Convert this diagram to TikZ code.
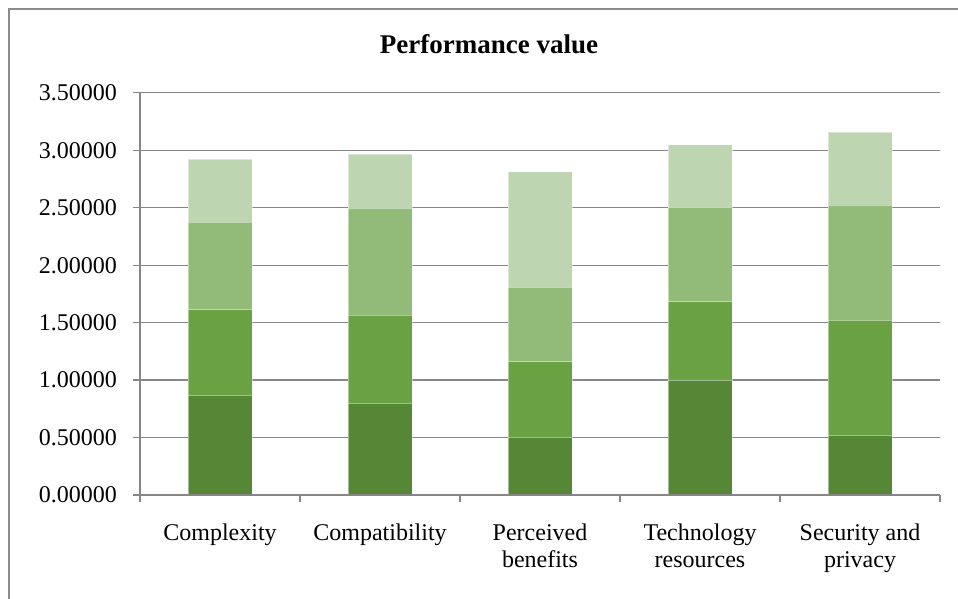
\documentclass[tikz,border=0pt]{standalone}
\usepackage{fontspec}
\setmainfont{Liberation Serif}
\usepackage{tikz}

\definecolor{segA}{RGB}{86,135,54}
\definecolor{segB}{RGB}{106,162,67}
\definecolor{segC}{RGB}{146,187,122}
\definecolor{segD}{RGB}{190,213,178}
\definecolor{gridgray}{RGB}{134,134,134}
\definecolor{framegray}{RGB}{140,140,140}

\tikzset{
  gridline/.style={draw=gridgray, line width=1.3pt},
  barseg/.style={draw=white, draw opacity=0.45, line width=0.8pt},
  ticklabel/.style={font=\fontsize{24}{27}\selectfont, inner sep=0pt},
  catlabel/.style={font=\fontsize{24}{27}\selectfont, inner sep=0pt, align=center, anchor=north}
}

\begin{document}
\begin{tikzpicture}[x=1pt,y=1pt]

\useasboundingbox (0,0) rectangle (958,599);

%% frame
\draw[framegray, line width=2pt] (9,0) -- (9,590) -- (958,590);

%% title
\node[font=\bfseries\fontsize{27}{30}\selectfont] (title) at (489,555) {Performance value};

\begin{scope}[shift={(140,104)}, y=114.9pt]

%% grid lines and value labels
\foreach \v [count=\i] in {0.5,1.0,1.5,2.0,2.5,3.0,3.5}{
  \draw[gridline] (-7,\v) -- (800,\v);
}
\foreach \v/\t [count=\i] in {0/0.00000,0.5/0.50000,1/1.00000,1.5/1.50000,2/2.00000,2.5/2.50000,3/3.00000,3.5/3.50000}{
  \node[ticklabel, anchor=east] (ylab-\i) at (-23,\v) {\t};
}

%% bars
\foreach \a/\b/\c/\d [count=\i] in {0.868/1.613/2.376/2.922,
                                   0.798/1.564/2.498/2.968,
                                   0.502/1.160/1.808/2.814,
                                   0.998/1.682/2.504/3.049,
                                   0.522/1.523/2.524/3.157}{
  \pgfmathsetmacro{\xl}{48+160*(\i-1)}
  \pgfmathsetmacro{\xr}{112+160*(\i-1)}
  \fill[segA] (\xl,0) rectangle (\xr,\a);
  \fill[segB] (\xl,\a) rectangle (\xr,\b);
  \fill[segC] (\xl,\b) rectangle (\xr,\c);
  \fill[segD] (\xl,\c) rectangle (\xr,\d);
  \draw[barseg] (\xl,\a) -- (\xr,\a);
  \draw[barseg] (\xl,\b) -- (\xr,\b);
  \draw[barseg] (\xl,\c) -- (\xr,\c);
  \draw[barseg] (\xl,0) rectangle (\xr,\d);
}

%% axes
\draw[gridline] (-7,0) -- (800,0);
\draw[gridline] (0,0) -- (0,3.5);
\foreach \x in {0,160,...,800}{
  \draw[gridline] (\x,0) -- ++(0,-7pt);
}

%% category labels
\node[catlabel] (cat-1) at (80,-29pt) {Complexity};
\node[catlabel] (cat-2) at (240,-29pt) {Compatibility};
\node[catlabel] (cat-3) at (400,-29pt) {Perceived\\benefits};
\node[catlabel] (cat-4) at (560,-29pt) {Technology\\resources};
\node[catlabel] (cat-5) at (720,-29pt) {Security and\\privacy};

\end{scope}

\end{tikzpicture}
\end{document}
